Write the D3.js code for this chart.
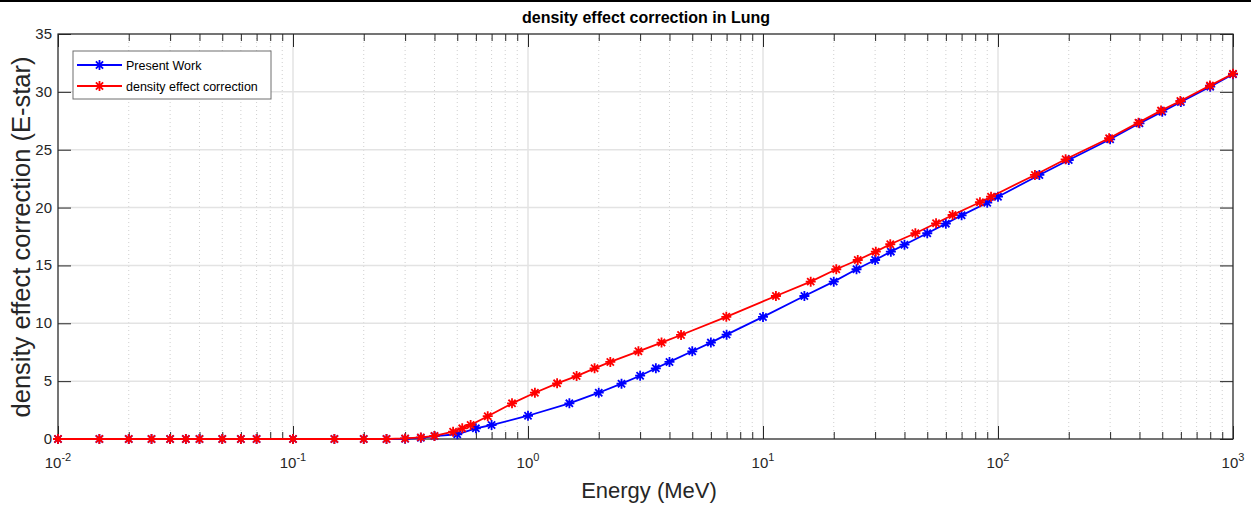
<!DOCTYPE html>
<html>
<head>
<meta charset="utf-8">
<script src="https://cdn.jsdelivr.net/npm/d3@7"></script>
<style>
  body { margin: 0; background: #fff; }
  svg { display: block; font-family: "Liberation Sans", Arial, sans-serif; }
</style>
</head>
<body>
<svg id="grafico" width="1251" height="506"></svg>
<script>
// Datos
var energiasBajas = [0.01, 0.015, 0.02, 0.025, 0.03, 0.035, 0.04, 0.05, 0.06, 0.07, 0.1, 0.15, 0.2, 0.25];
var ceros = [0, 0, 0, 0, 0, 0, 0, 0, 0, 0, 0, 0, 0, 0];

var energiaPresente = energiasBajas.concat([0.3, 0.35, 0.4, 0.5, 0.6, 0.7,
    1, 1.5, 2, 2.5, 3, 3.5, 4, 5, 6, 7,
    10, 15, 20, 25, 30, 35, 40, 50, 60, 70,
    90, 100, 150, 200, 300, 400, 500, 600, 800, 1000]);
var valorPresente = ceros.concat([0.02, 0.1, 0.25, 0.41, 0.92, 1.21,
    2.01, 3.08, 4.0, 4.78, 5.47, 6.11, 6.66, 7.58, 8.33, 9.02,
    10.55, 12.36, 13.6, 14.67, 15.47, 16.19, 16.79, 17.78, 18.61, 19.33,
    20.42, 20.94, 22.82, 24.11, 25.9, 27.28, 28.29, 29.13, 30.45, 31.52]);

var energiaEstar = energiasBajas.concat([0.3, 0.35, 0.4, 0.48, 0.525, 0.57,
    0.674, 0.855, 1.07, 1.33, 1.61, 1.92, 2.24, 2.95, 3.7, 4.48,
    6.98, 11.35, 15.96, 20.5, 25.3, 30.2, 34.8, 44.5, 54.5, 64.1,
    83.8, 93.4, 143.6, 194, 297, 396, 494, 597, 798, 1000]);
var valorEstar = ceros.concat([0.05, 0.14, 0.27, 0.63, 0.92, 1.21,
    1.97, 3.08, 4.0, 4.81, 5.44, 6.11, 6.66, 7.58, 8.33, 8.99,
    10.56, 12.36, 13.6, 14.67, 15.47, 16.19, 16.83, 17.78, 18.64, 19.36,
    20.46, 20.94, 22.82, 24.17, 25.99, 27.34, 28.38, 29.21, 30.54, 31.57]);

var exponentes = [-2, -1, 0, 1, 2, 3];
var ticksY = [0, 5, 10, 15, 20, 25, 30, 35];

var series = [
    { nombre: "Present Work", color: "#0000ff", x: energiaPresente, y: valorPresente },
    { nombre: "density effect correction", color: "#ff0000", x: energiaEstar, y: valorEstar }
];

// Geometria
var izq = 58, der = 1233, arriba = 34, abajo = 439;
var ejeColor = "#262626";

var svg = d3.select("#grafico");

// linea negra superior de la figura
svg.append("rect").attr("x", 0).attr("y", 0).attr("width", 1251).attr("height", 2).attr("fill", "#000");

var x = d3.scaleLog().domain([1e-2, 1e3]).range([izq, der]);
var y = d3.scaleLinear().domain([0, 35]).range([abajo, arriba]);

// ticks menores del eje log
var menores = [];
exponentes.slice(0, -1).forEach(function(e) {
    for (var k = 2; k <= 9; k++) menores.push(k * Math.pow(10, e));
});
var mayores = exponentes.map(function(e) { return Math.pow(10, e); });

// Rejilla
var g = svg.append("g");
g.selectAll(".menor").data(menores).enter().append("line")
    .attr("x1", d => x(d)).attr("x2", d => x(d))
    .attr("y1", arriba).attr("y2", abajo)
    .attr("stroke", "#cfcfcf").attr("stroke-width", 1).attr("stroke-dasharray", "1,3");
g.selectAll(".mayorx").data(mayores).enter().append("line")
    .attr("x1", d => x(d)).attr("x2", d => x(d))
    .attr("y1", arriba).attr("y2", abajo)
    .attr("stroke", "#e3e3e3").attr("stroke-width", 1.5);
g.selectAll(".mayory").data(ticksY).enter().append("line")
    .attr("x1", izq).attr("x2", der)
    .attr("y1", d => y(d)).attr("y2", d => y(d))
    .attr("stroke", "#e3e3e3").attr("stroke-width", 1.5);

// Ejes (ticks hacia dentro)
function estilo(sel) {
    sel.select(".domain").remove();
    sel.selectAll("line").attr("stroke", ejeColor).attr("stroke-width", 1);
    sel.selectAll("text").remove();
}
svg.append("g").attr("transform", "translate(0," + abajo + ")")
    .call(d3.axisBottom(x).tickValues(mayores).tickSize(-13)).call(estilo);
svg.append("g").attr("transform", "translate(0," + abajo + ")")
    .call(d3.axisBottom(x).tickValues(menores).tickSize(-7)).call(estilo);
svg.append("g").attr("transform", "translate(0," + arriba + ")")
    .call(d3.axisTop(x).tickValues(mayores).tickSize(-13)).call(estilo);
svg.append("g").attr("transform", "translate(0," + arriba + ")")
    .call(d3.axisTop(x).tickValues(menores).tickSize(-7)).call(estilo);
svg.append("g").attr("transform", "translate(" + izq + ",0)")
    .call(d3.axisLeft(y).tickValues(ticksY).tickSize(-13)).call(estilo);
svg.append("g").attr("transform", "translate(" + der + ",0)")
    .call(d3.axisRight(y).tickValues(ticksY).tickSize(-13)).call(estilo);

// Caja
svg.append("rect").attr("x", izq).attr("y", arriba)
    .attr("width", der - izq).attr("height", abajo - arriba)
    .attr("fill", "none").attr("stroke", ejeColor).attr("stroke-width", 1.2);

// Etiquetas de los ticks
var etX = svg.append("g").attr("fill", ejeColor).attr("font-size", "15px");
exponentes.forEach(function(e) {
    var t = etX.append("text").attr("x", x(Math.pow(10, e))).attr("y", 468).attr("text-anchor", "middle");
    t.append("tspan").text("10");
    t.append("tspan").attr("dy", -7).attr("font-size", "11px").text(e);
});
svg.append("g").selectAll("text").data(ticksY).enter().append("text")
    .attr("x", 52).attr("y", d => y(d) + 5)
    .attr("text-anchor", "end").attr("fill", ejeColor).attr("font-size", "15px")
    .text(d => d);

// Series
var linea = d3.line().x((d, i) => x(d[0])).y(d => y(d[1]));
function asterisco(s) {
    var r = 5, q = 3.6;
    return "M" + (-r) + ",0L" + r + ",0M0," + (-r) + "L0," + r +
        "M" + (-q) + "," + (-q) + "L" + q + "," + q + "M" + (-q) + "," + q + "L" + q + "," + (-q);
}
series.forEach(function(s) {
    var puntos = s.x.map((v, i) => [v, s.y[i]]);
    svg.append("path").datum(puntos)
        .attr("d", linea).attr("fill", "none")
        .attr("stroke", s.color).attr("stroke-width", 1.8);
    svg.append("g").selectAll("path").data(puntos).enter().append("path")
        .attr("transform", d => "translate(" + x(d[0]) + "," + y(d[1]) + ")")
        .attr("d", asterisco()).attr("stroke", s.color).attr("stroke-width", 1.8).attr("fill", "none");
});

// Leyenda
var ley = svg.append("g");
ley.append("rect").attr("x", 73).attr("y", 51).attr("width", 198).attr("height", 48)
    .attr("fill", "#fff").attr("stroke", "#6e6e6e").attr("stroke-width", 1);
series.forEach(function(s, i) {
    var yy = 65 + i * 21;
    ley.append("line").attr("x1", 77).attr("x2", 122).attr("y1", yy).attr("y2", yy)
        .attr("stroke", s.color).attr("stroke-width", 1.8);
    ley.append("path").attr("transform", "translate(99.5," + yy + ")")
        .attr("d", asterisco()).attr("stroke", s.color).attr("stroke-width", 1.8).attr("fill", "none");
    ley.append("text").attr("x", 126).attr("y", yy + 4.5).attr("font-size", "12.5px")
        .attr("fill", "#000").text(s.nombre);
});

// Titulo y rotulos
svg.append("text").attr("x", 646).attr("y", 23).attr("text-anchor", "middle")
    .attr("font-family", "'Liberation Sans Narrow', 'Arial Narrow', 'Liberation Sans', Arial, sans-serif")
    .attr("font-weight", "bold").attr("font-size", "16px").attr("fill", "#000")
    .text("density effect correction in Lung");
svg.append("text").attr("x", 649).attr("y", 498).attr("text-anchor", "middle")
    .attr("font-size", "22px").attr("fill", ejeColor).text("Energy (MeV)");
svg.append("text").attr("transform", "translate(30,237) rotate(-90)").attr("text-anchor", "middle")
    .attr("font-size", "25.5px").attr("fill", ejeColor).text("density effect correction (E-star)");
</script>
</body>
</html>
